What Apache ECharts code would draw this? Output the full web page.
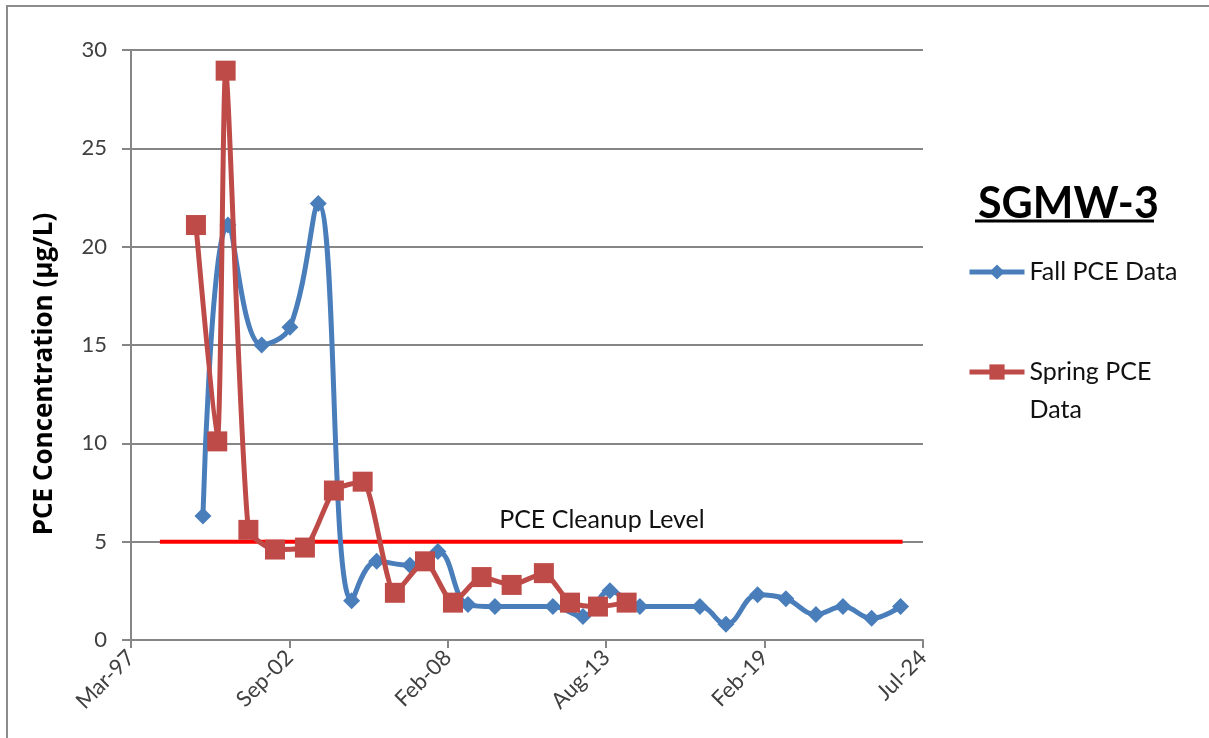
<!DOCTYPE html>
<html>
<head>
<meta charset="utf-8">
<title>SGMW-3</title>
<script src="https://cdn.jsdelivr.net/npm/echarts@6/dist/echarts.min.js"></script>
<style>
  html, body { margin: 0; padding: 0; background: #fff; }
  #chartImg { width: 1209px; height: 738px; }
</style>
</head>
<body>
<div id="chartImg"></div>
<script>
// sample data
var fallDates = ['1999-09-05','2000-07-17','2001-09-16','2002-09-08','2003-08-31','2004-10-26',
  '2005-09-07','2006-11-01','2007-10-20','2008-11-02','2009-10-09','2011-10-11','2012-10-24',
  '2013-09-30','2014-10-13','2016-11-09','2017-10-04','2018-11-07','2019-10-31','2020-11-13',
  '2021-10-20','2022-10-17','2023-10-18'];
var fallValues = [6.3, 21.1, 15.0, 15.9, 22.2, 2.0, 4.0, 3.8, 4.5, 1.8, 1.7, 1.7, 1.2,
  2.5, 1.7, 1.7, 0.8, 2.3, 2.1, 1.3, 1.7, 1.1, 1.7];

var springDates = ['1999-06-09','2000-03-04','2000-06-18','2001-04-01','2002-03-03','2003-03-16',
  '2004-03-16','2005-03-14','2006-04-25','2007-05-10','2008-04-27','2009-04-24','2010-05-08',
  '2011-06-19','2012-05-14','2013-05-02','2014-04-29'];
var springValues = [21.1, 10.1, 28.95, 5.6, 4.6, 4.7, 7.6, 8.05, 2.4, 4.0, 1.9, 3.2, 2.8,
  3.4, 1.9, 1.7, 1.9];

var cleanupDates = ['1998-03-11', '2023-11-12'];
var cleanupLevel = 5;
var cleanupLabelDate = '2013-06-21';

// x axis: Excel-style date axis, Mar-97 .. Jul-24, major unit 2000 days
var axisStart = '1997-03-11';
var axisDays = 10000;
var tickDays = 2000;
var months = ['Jan','Feb','Mar','Apr','May','Jun','Jul','Aug','Sep','Oct','Nov','Dec'];

function toDay(s) {
  var a = s.split('-'), b = axisStart.split('-');
  return (Date.UTC(+a[0], a[1] - 1, +a[2]) - Date.UTC(+b[0], b[1] - 1, +b[2])) / 86400000;
}
function dayLabel(v) {
  var b = axisStart.split('-');
  var d = new Date(Date.UTC(+b[0], b[1] - 1, +b[2]) + v * 86400000);
  return months[d.getUTCMonth()] + '-' + String(d.getUTCFullYear()).slice(2);
}
function pairs(dates, vals) {
  return dates.map(function (d, i) { return [toDay(d), vals[i]]; });
}

var font = 'Lato, "Open Sans", sans-serif';
var myChart = echarts.init(document.getElementById('chartImg'));
var option = {
  animation: false,
  backgroundColor: '#fff',
  textStyle: { fontFamily: font },
  title: {
    text: 'SGMW-3',
    left: 973,
    top: 178,
    textStyle: { fontFamily: font, fontSize: 43, fontWeight: 'bold', color: '#000' }
  },
  legend: {
    orient: 'vertical',
    left: 967,
    top: 253,
    padding: 0,
    itemGap: 24,
    itemWidth: 55,
    itemHeight: 19,
    lineStyle: { width: 5 },
    data: ['Fall PCE Data', 'Spring PCE Data'],
    formatter: function (name) {
      return name === 'Spring PCE Data' ? '\nSpring PCE\nData' : name;
    },
    textStyle: { fontFamily: font, fontSize: 25, lineHeight: 38, color: '#111' }
  },
  graphic: [
    { type: 'rect', shape: { x: 7, y: 6, width: 1400, height: 900 },
      style: { fill: 'none', stroke: '#8c8c8c', lineWidth: 2 }, silent: true },
    { type: 'line', shape: { x1: 975, y1: 221, x2: 1154, y2: 221 },
      style: { stroke: '#000', lineWidth: 3 } },
    { type: 'text', x: 45, y: 374, rotation: Math.PI / 2,
      style: { text: 'PCE Concentration (µg/L)', font: 'bold 26px "Open Sans", sans-serif', fill: '#000',
        textAlign: 'center', textVerticalAlign: 'middle' } }
  ],
  grid: { left: 131, right: 286, top: 50, bottom: 98 },
  xAxis: {
    type: 'value',
    min: 0,
    max: axisDays,
    interval: tickDays,
    splitLine: { show: false },
    axisLine: { lineStyle: { color: '#868686', width: 2 } },
    axisTick: { length: 8, lineStyle: { color: '#868686', width: 2 } },
    axisLabel: { rotate: 45, margin: 14, fontSize: 22, color: '#404040', fontFamily: font,
      formatter: dayLabel }
  },
  yAxis: {
    type: 'value',
    min: 0,
    max: 30,
    interval: 5,
    axisLine: { show: true, lineStyle: { color: '#868686', width: 2 } },
    axisTick: { show: true, length: 9, lineStyle: { color: '#868686', width: 2 } },
    splitLine: { lineStyle: { color: '#868686', width: 2 } },
    axisLabel: { margin: 24, fontSize: 22, color: '#404040', fontFamily: font }
  },
  series: [
    {
      name: 'PCE Cleanup Level',
      type: 'line',
      data: pairs(cleanupDates, [cleanupLevel, cleanupLevel]),
      showSymbol: false,
      lineStyle: { color: '#ff0000', width: 4 },
      z: 1,
      markPoint: {
        symbol: 'circle',
        symbolSize: 0,
        data: [{ coord: [toDay(cleanupLabelDate), cleanupLevel] }],
        label: { show: true, position: 'top', distance: 9, formatter: 'PCE Cleanup Level',
          fontFamily: font, fontSize: 25, color: '#111' }
      }
    },
    {
      name: 'Fall PCE Data',
      type: 'line',
      smooth: 0.4,
      data: pairs(fallDates, fallValues),
      symbol: 'diamond',
      symbolSize: 17,
      itemStyle: { color: '#4a7ebb' },
      lineStyle: { color: '#4a7ebb', width: 5 },
      z: 2
    },
    {
      name: 'Spring PCE Data',
      type: 'line',
      smooth: 0.2,
      data: pairs(springDates, springValues),
      symbol: 'rect',
      symbolSize: 20,
      itemStyle: { color: '#be4b48' },
      lineStyle: { color: '#be4b48', width: 5 },
      z: 3
    }
  ]
};
myChart.setOption(option);
</script>
</body>
</html>
